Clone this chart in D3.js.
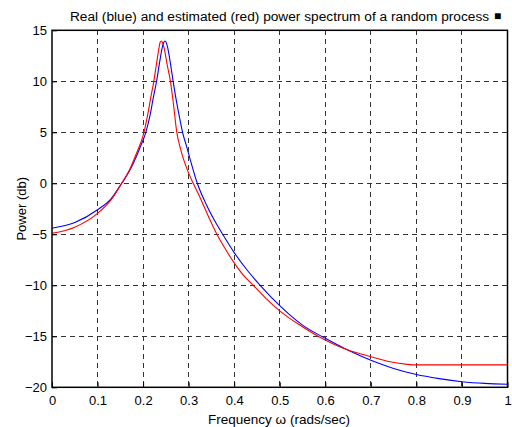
<!DOCTYPE html>
<html>
<head>
<meta charset="utf-8">
<script src="https://cdn.jsdelivr.net/npm/d3@7"></script>
<style>
  html, body { margin: 0; padding: 0; background: #fff; }
  svg { display: block; }
  text { font-family: "Liberation Sans", Arial, Helvetica, sans-serif; fill: #000; }
</style>
</head>
<body>
<svg id="chart" width="512" height="427"></svg>
<script>
// ---- data ----
const titleText = "Real (blue) and estimated (red) power spectrum of a random process";
const xLabel = "Frequency \u03C9 (rads/sec)";
const yLabel = "Power (db)";
const xTicks = [0, 0.1, 0.2, 0.3, 0.4, 0.5, 0.6, 0.7, 0.8, 0.9, 1];
const yTicks = [-20, -15, -10, -5, 0, 5, 10, 15];

// Real spectrum (blue)
const realFreq = [0, 0.05, 0.10, 0.13, 0.153, 0.17, 0.185, 0.196, 0.206, 0.215, 0.222, 0.230, 0.236, 0.242, 0.245, 0.248, 0.251, 0.254, 0.260, 0.266, 0.272, 0.278, 0.288, 0.295, 0.303, 0.319, 0.34, 0.36, 0.376, 0.40, 0.43, 0.457, 0.50, 0.522, 0.55, 0.60, 0.647, 0.70, 0.75, 0.80, 0.85, 0.90, 0.95, 1.0];
const realPow  = [-4.4, -3.85, -2.6, -1.5, 0, 1.2, 2.6, 3.8, 5.0, 6.6, 8.3, 10.1, 11.8, 13.3, 13.78, 13.95, 13.78, 13.3, 11.75, 10.0, 8.35, 6.9, 4.75, 3.7, 2.4, 0, -2.2, -3.9, -5.1, -6.8, -8.6, -10.0, -12.0, -12.9, -13.9, -15.2, -16.3, -17.35, -18.15, -18.75, -19.15, -19.45, -19.62, -19.7];

// Estimated spectrum (red)
const estFreq = [0, 0.05, 0.10, 0.13, 0.153, 0.17, 0.185, 0.195, 0.202, 0.210, 0.216, 0.2235, 0.229, 0.235, 0.237, 0.240, 0.243, 0.246, 0.253, 0.260, 0.266, 0.274, 0.282, 0.29, 0.30, 0.31, 0.323, 0.335, 0.348, 0.362, 0.38, 0.40, 0.42, 0.442, 0.47, 0.50, 0.544, 0.584, 0.62, 0.647, 0.70, 0.742, 0.78, 0.80, 0.90, 1.0];
const estPow  = [-4.9, -4.3, -2.95, -1.6, 0, 1.3, 2.9, 4.0, 5.0, 6.7, 8.2, 10.0, 11.6, 13.3, 13.78, 13.95, 13.78, 13.3, 11.6, 10.0, 8.0, 5.0, 3.4, 2.2, 1.0, 0, -1.2, -2.4, -3.7, -5.0, -6.4, -7.8, -9.0, -10.0, -11.3, -12.5, -13.9, -15.0, -15.8, -16.3, -17.0, -17.5, -17.75, -17.8, -17.8, -17.8];

// ---- layout ----
const svg = d3.select("#chart");
const L = 52, R = 507.5, T = 30.3, B = 387.3;
const x = d3.scaleLinear().domain([0, 1]).range([L, R]);
const y = d3.scaleLinear().domain([-20, 15]).range([B, T]);

// grid
const grid = svg.append("g");
grid.selectAll(".vg").data(xTicks.slice(1, -1)).enter().append("line")
  .attr("x1", d => x(d)).attr("x2", d => x(d)).attr("y1", T).attr("y2", B)
  .attr("stroke", "#333").attr("stroke-width", 1).attr("stroke-dasharray", "5,4")
  .attr("shape-rendering", "crispEdges");
grid.selectAll(".hg").data(yTicks.slice(1, -1)).enter().append("line")
  .attr("y1", d => y(d)).attr("y2", d => y(d)).attr("x1", L).attr("x2", R)
  .attr("stroke", "#333").attr("stroke-width", 1).attr("stroke-dasharray", "5,4")
  .attr("shape-rendering", "crispEdges");

// axes
const xAxis = d3.axisBottom(x).tickValues(xTicks).tickFormat(d3.format("")).tickSizeInner(-5).tickSizeOuter(0).tickPadding(8);
const yAxis = d3.axisLeft(y).tickValues(yTicks).tickFormat(d3.format("")).tickSizeInner(-5).tickSizeOuter(0).tickPadding(5);
const gx = svg.append("g").attr("transform", `translate(0,${B})`).call(xAxis);
const gy = svg.append("g").attr("transform", `translate(${L},0)`).call(yAxis);
[gx, gy].forEach(g => {
  g.select(".domain").remove();
  g.selectAll("line").attr("stroke", "#000");
  g.selectAll("text").attr("font-size", 13).attr("font-family", "Liberation Sans, Arial, sans-serif").attr("fill", "#000");
});

// lines
const lineGen = d3.line().x(d => x(d[0])).y(d => y(d[1])).curve(d3.curveMonotoneX);
const realData = realFreq.map((f, i) => [f, realPow[i]]);
const estData = estFreq.map((f, i) => [f, estPow[i]]);
svg.append("path").datum(realData).attr("d", lineGen)
  .attr("fill", "none").attr("stroke", "#0000ff").attr("stroke-width", 1.1);
svg.append("path").datum(estData).attr("d", lineGen)
  .attr("fill", "none").attr("stroke", "#ff0000").attr("stroke-width", 1.1);

// box
svg.append("rect").attr("x", L).attr("y", T).attr("width", R - L).attr("height", B - T)
  .attr("fill", "none").attr("stroke", "#000").attr("stroke-width", 1.5);

// title and labels
svg.append("text").attr("x", 279.5).attr("y", 20.5).attr("text-anchor", "middle")
  .attr("font-size", 13.7).text(titleText);
svg.append("text").attr("x", 497.5).attr("y", 20).attr("text-anchor", "middle")
  .attr("font-size", 12).text("\u25A0");
svg.append("text").attr("x", 279).attr("y", 424).attr("text-anchor", "middle")
  .attr("font-size", 13.5).text(xLabel);
svg.append("text").attr("transform", `translate(26,${(T + B) / 2}) rotate(-90)`)
  .attr("text-anchor", "middle").attr("font-size", 13).text(yLabel);
</script>
</body>
</html>
